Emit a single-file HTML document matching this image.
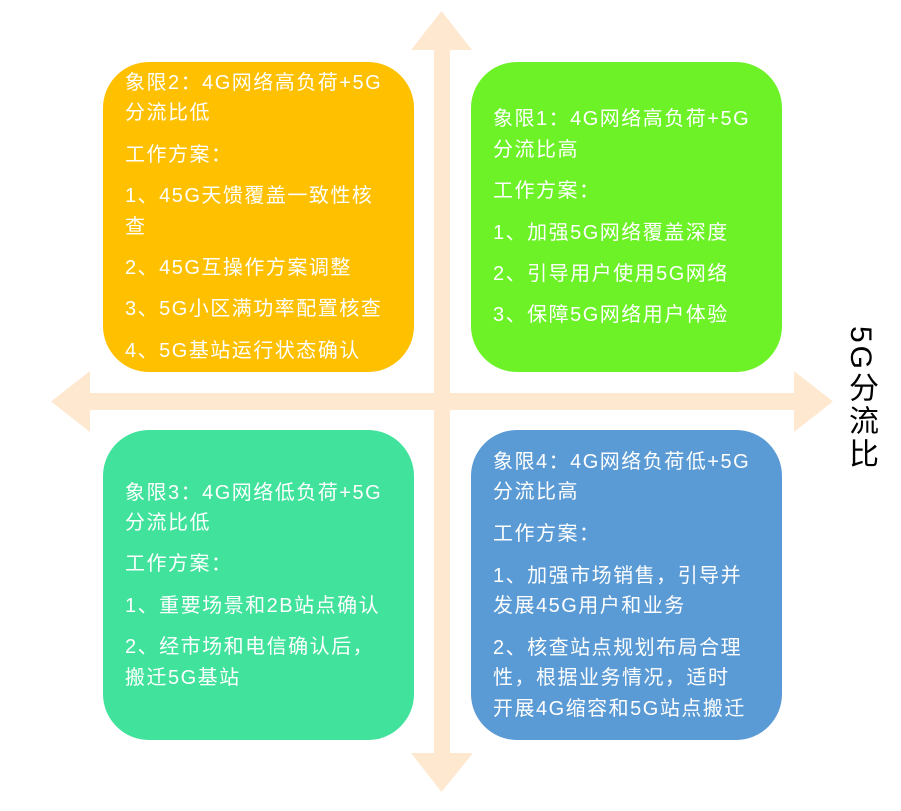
<!DOCTYPE html>
<html><head><meta charset="utf-8"><style>
body{margin:0;width:901px;height:811px;background:#fff;position:relative;overflow:hidden;font-family:"Liberation Sans","Noto Sans CJK SC",sans-serif}
.b{position:absolute;width:311px;height:310px;border-radius:46px}
.t{position:absolute;color:#fff;font-size:20px;letter-spacing:1.5px;line-height:22px;white-space:nowrap;transform:translateY(-11px)}
</style></head><body>
<svg width="901" height="811" style="position:absolute;left:0;top:0">
<g fill="#FEE8D0">
<rect x="434" y="48" width="16" height="707"/>
<polygon points="441.5,11 472,50 411,50"/>
<polygon points="441.5,792 473,753 411,753"/>
<rect x="88" y="393" width="708" height="17"/>
<polygon points="51,401.5 90,371 90,432"/>
<polygon points="833,401.5 794,371 794,432"/>
</g></svg>
<div class="b" style="left:103px;top:62px;background:#FFC000"></div>
<div class="b" style="left:471px;top:62px;background:#6CF227"></div>
<div class="b" style="left:103px;top:430px;background:#41E29B"></div>
<div class="b" style="left:471px;top:430px;background:#5B9BD5"></div>

<div class="t" style="left:125px;top:83px">象限2：4G网络高负荷+5G</div>
<div class="t" style="left:125px;top:113px">分流比低</div>
<div class="t" style="left:125px;top:155px">工作方案：</div>
<div class="t" style="left:125px;top:196px">1、45G天馈覆盖一致性核</div>
<div class="t" style="left:125px;top:227px">查</div>
<div class="t" style="left:125px;top:268px">2、45G互操作方案调整</div>
<div class="t" style="left:125px;top:309px">3、5G小区满功率配置核查</div>
<div class="t" style="left:125px;top:351px">4、5G基站运行状态确认</div>

<div class="t" style="left:493px;top:119px">象限1：4G网络高负荷+5G</div>
<div class="t" style="left:493px;top:150px">分流比高</div>
<div class="t" style="left:493px;top:191px">工作方案：</div>
<div class="t" style="left:493px;top:233px">1、加强5G网络覆盖深度</div>
<div class="t" style="left:493px;top:274px">2、引导用户使用5G网络</div>
<div class="t" style="left:493px;top:315px">3、保障5G网络用户体验</div>

<div class="t" style="left:125px;top:493px">象限3：4G网络低负荷+5G</div>
<div class="t" style="left:125px;top:523px">分流比低</div>
<div class="t" style="left:125px;top:564px">工作方案：</div>
<div class="t" style="left:125px;top:606px">1、重要场景和2B站点确认</div>
<div class="t" style="left:125px;top:647px">2、经市场和电信确认后，</div>
<div class="t" style="left:125px;top:678px">搬迁5G基站</div>

<div class="t" style="left:493px;top:462px">象限4：4G网络负荷低+5G</div>
<div class="t" style="left:493px;top:492px">分流比高</div>
<div class="t" style="left:493px;top:534px">工作方案：</div>
<div class="t" style="left:493px;top:576px">1、加强市场销售，引导并</div>
<div class="t" style="left:493px;top:606px">发展45G用户和业务</div>
<div class="t" style="left:493px;top:648px">2、核查站点规划布局合理</div>
<div class="t" style="left:493px;top:678px">性，根据业务情况，适时</div>
<div class="t" style="left:493px;top:709px">开展4G缩容和5G站点搬迁</div>

<div style="position:absolute;left:842px;top:326px;writing-mode:vertical-rl;font-size:30px;letter-spacing:3px;line-height:36px;color:#000">5G分流比</div>
</body></html>
